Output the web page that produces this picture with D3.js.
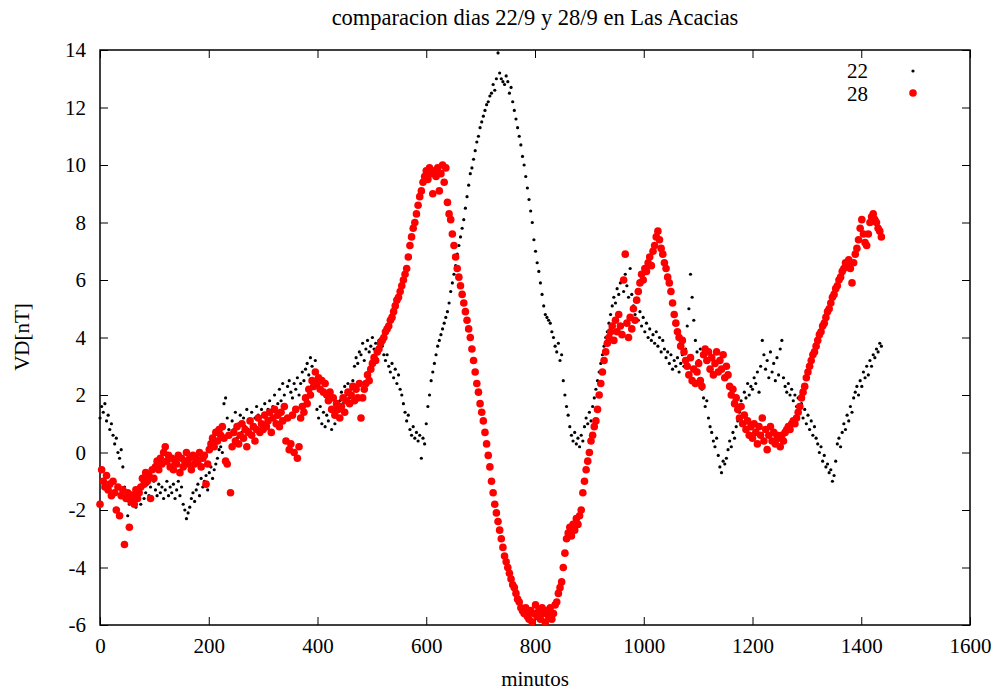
<!DOCTYPE html>
<html>
<head>
<meta charset="utf-8">
<script src="https://cdn.jsdelivr.net/npm/d3@7"></script>
<style>
body{margin:0;background:#fff;}
text{font-family:"Liberation Serif","Times New Roman",serif;fill:#000;}
</style>
</head>
<body>
<script>
var w = 1002;
var h = 693;
var padL = 100, padR = 970, padT = 50, padB = 625;

// one reading every 3 minutes, 20 per row = 1 hour
var minutos = d3.range(0, 1440, 3);

// dia 22/9
var vd22 = [
 1.2,1.6,1.4,1.7,1.1,1.3,0.8,1.0,0.6,0.3,0.5,0.0,-0.2,0.1,-0.5,-1.2,-1.6,-2.2,-1.8,-1.4,
 -1.7,-1.4,-1.9,-1.5,-1.3,-1.8,-1.2,-1.6,-1.4,-1.1,-1.5,-1.2,-1.6,-1.0,-1.3,-1.5,-1.1,-1.4,-1.2,-1.6,
 -1.3,-1.0,-1.5,-1.2,-1.4,-1.1,-1.6,-1.3,-1.0,-1.5,-1.2,-1.8,-2.0,-2.3,-2.1,-1.9,-1.6,-1.4,-1.7,-1.3,
 -1.1,-1.5,-0.9,-1.2,-1.0,-0.8,-1.3,-0.7,-0.5,-0.9,-0.6,-0.4,-0.2,0.1,0.2,0.0,1.7,1.9,1.2,0.8,
 0.6,1.1,0.8,1.4,0.5,1.0,1.3,0.7,1.2,0.9,1.5,0.8,1.1,1.4,0.9,1.2,1.6,1.3,1.1,1.5,
 1.3,1.7,1.2,1.5,1.8,1.4,1.6,2.0,1.5,1.7,2.2,1.8,2.4,2.0,1.6,2.3,2.5,2.1,1.9,2.4,
 2.2,2.6,2.0,2.4,2.8,2.5,2.9,3.1,2.7,3.3,3.0,2.8,3.2,1.5,1.2,1.6,1.0,1.4,0.9,1.3,
 1.1,1.5,0.8,1.3,1.0,1.6,1.2,1.8,2.1,1.7,2.3,2.0,2.4,1.9,2.2,2.5,3.0,3.3,3.1,3.5,
 3.4,3.8,3.2,3.6,3.9,3.5,3.7,4.0,3.6,3.8,3.5,3.9,3.6,3.7,3.4,3.2,3.4,3.0,2.8,3.1,
 2.6,2.9,2.4,2.7,2.2,2.0,1.7,1.4,1.1,1.3,0.8,0.6,0.9,0.5,0.7,0.4,0.6,-0.2,0.5,0.3,
 1.0,1.6,2.0,2.5,2.8,3.1,3.4,3.7,3.9,4.1,4.3,4.5,4.7,4.9,5.2,5.6,5.9,6.2,6.5,6.9,
 7.2,7.5,7.8,8.1,8.5,8.9,9.3,9.7,9.9,10.2,10.5,10.8,11.0,11.3,11.5,11.7,11.9,12.1,12.2,12.4,
 12.5,12.8,12.6,13.0,13.9,13.2,13.0,12.9,12.8,13.1,12.9,12.5,12.7,12.2,11.9,11.6,11.3,11.0,10.7,10.3,
 10.0,9.6,9.2,8.8,8.4,8.0,7.4,7.0,6.6,6.3,5.9,5.5,5.1,4.8,4.7,4.6,4.5,4.2,4.0,3.7,
 3.5,3.8,3.2,3.4,2.5,2.0,1.6,1.3,0.9,0.6,0.4,0.7,0.3,0.5,0.2,0.6,0.4,0.9,1.2,1.0,
 1.4,1.1,1.6,1.9,2.2,2.5,2.8,3.1,3.4,3.7,4.0,4.2,4.5,4.8,5.1,5.4,5.2,5.7,5.5,5.9,
 6.0,5.6,6.2,5.8,5.4,6.4,5.5,5.1,4.8,5.3,4.6,4.9,4.4,4.7,4.2,4.5,4.0,4.3,3.9,4.1,
 3.8,4.2,3.7,4.0,3.5,3.9,3.6,3.3,3.5,3.1,3.4,2.9,3.2,3.0,3.3,2.8,3.1,3.4,3.0,3.6,
 4.4,5.0,6.2,5.4,4.6,3.9,3.5,3.2,3.6,2.2,1.9,1.6,1.8,1.2,0.9,0.7,0.4,0.2,0.5,-0.1,
 -0.5,-0.7,-0.3,-0.4,-0.2,0.1,0.4,0.2,0.7,0.5,0.9,1.1,1.4,1.8,1.6,2.1,1.9,2.4,2.0,2.3,
 2.2,2.6,2.4,2.8,2.1,3.0,3.9,3.4,2.9,3.2,2.6,3.5,2.8,3.1,2.5,3.3,2.7,3.6,3.9,2.6,
 2.3,2.1,2.4,2.0,2.2,1.8,2.0,1.6,1.9,1.4,1.7,1.2,1.5,1.0,1.3,0.8,1.1,0.6,0.9,0.5,
 0.3,0.0,0.2,-0.3,-0.1,-0.5,-0.4,-0.7,-0.6,-1.0,-0.8,-0.3,0.3,0.5,0.2,0.7,1.0,0.8,1.3,1.1,
 1.6,1.4,1.9,2.1,2.3,2.0,2.5,2.3,2.8,2.6,3.0,2.7,3.2,3.0,3.4,3.3,3.6,3.5,3.8,3.7
];

// dia 28/9
var vd28 = [
 -1.8,-0.6,-1.0,-1.2,-0.8,-1.3,-1.1,-1.5,-1.0,-1.4,-2.0,-1.2,-2.2,-1.5,-1.3,-3.2,-1.6,-1.4,-2.6,-1.7,
 -1.5,-1.8,-1.3,-1.6,-1.4,-1.2,-0.9,-1.1,-0.7,-1.0,-0.8,-1.6,-0.6,-0.9,-0.5,-0.3,-0.6,-0.2,-0.4,0.0,
 0.2,-0.3,-0.1,-0.5,-0.2,-0.6,-0.3,-0.4,-0.1,-0.7,-0.2,-0.5,-0.3,0.0,-0.4,-0.2,-0.6,-0.1,-0.4,-0.2,
 -0.3,0.0,-0.5,-0.2,-0.1,-1.1,-0.4,0.1,0.3,0.5,0.2,0.7,0.4,0.8,0.6,0.9,0.5,-0.3,-0.4,0.6,
 -1.4,0.2,0.7,0.4,0.9,0.3,0.6,1.0,0.5,0.8,0.2,0.7,1.1,0.6,0.9,0.4,0.8,1.2,0.7,1.0,
 0.8,1.3,0.9,1.1,1.4,0.7,1.2,1.5,1.0,1.3,0.9,1.4,1.1,1.6,0.4,1.2,0.1,0.3,1.3,0.0,
 1.5,-0.2,0.2,1.2,1.6,1.4,1.9,1.7,2.2,2.0,2.5,2.3,2.8,2.4,2.6,2.2,2.5,2.1,2.4,2.0,
 1.8,2.1,1.5,1.9,1.3,1.7,1.5,1.2,1.6,1.9,1.4,1.8,2.1,1.7,2.0,2.3,1.8,2.2,1.9,2.4,
 1.2,1.9,2.2,2.4,2.7,2.5,2.9,3.1,3.3,3.2,3.5,3.6,3.8,3.9,4.0,4.2,4.3,4.4,4.6,4.7,
 4.9,5.1,5.3,5.4,5.6,5.8,6.0,6.2,6.4,6.8,7.2,7.5,7.8,8.0,8.3,8.6,8.9,9.1,9.4,9.6,
 9.8,9.5,9.9,9.7,9.0,9.8,9.6,9.9,9.1,9.7,10.0,9.4,9.9,8.7,8.3,8.1,7.6,7.2,6.8,6.4,
 6.1,5.8,5.5,5.2,4.9,4.6,4.3,4.0,3.6,3.2,2.8,2.4,2.1,1.7,1.4,1.1,0.7,0.3,-0.1,-0.5,
 -1.0,-1.4,-1.8,-2.1,-2.4,-2.7,-3.0,-3.3,-3.6,-3.8,-4.0,-4.2,-4.4,-4.6,-4.7,-4.9,-5.1,-5.2,-5.4,-5.5,
 -5.6,-5.4,-5.7,-5.8,-5.5,-5.9,-5.6,-5.3,-5.7,-5.5,-5.8,-5.4,-5.6,-5.9,-5.5,-5.7,-5.4,-5.8,-5.6,-5.3,
 -5.2,-4.9,-4.7,-4.5,-4.0,-3.5,-3.0,-2.8,-2.6,-2.9,-2.5,-2.7,-2.3,-2.5,-2.2,-2.0,-1.4,-1.0,-0.6,-0.3,
 0.0,0.4,0.6,0.9,1.1,1.5,2.0,2.4,2.8,3.2,3.5,3.8,4.0,4.2,4.4,3.9,4.6,4.2,4.8,4.4,
 4.1,6.0,6.9,4.5,4.0,4.7,4.3,5.0,4.6,5.3,5.6,5.9,6.2,6.0,6.4,6.3,6.6,6.8,6.5,7.0,
 7.2,7.5,7.7,7.4,7.1,6.9,6.6,6.4,6.1,5.9,5.6,5.2,4.8,4.5,4.2,4.0,3.7,3.9,3.5,3.2,
 3.0,2.7,3.3,2.5,2.9,2.4,2.8,3.1,2.5,2.3,3.4,3.6,3.2,3.5,2.9,3.3,2.7,3.1,3.5,2.8,
 3.2,2.9,3.4,2.6,3.0,2.7,2.3,2.0,2.2,1.7,1.9,1.5,1.2,1.6,1.0,1.3,0.8,1.1,0.6,0.9,
 0.5,1.0,0.7,0.3,0.9,0.6,1.2,0.4,0.8,0.1,0.6,0.9,0.4,0.7,0.3,0.6,0.5,0.2,0.6,0.4,
 0.7,0.8,0.9,0.8,1.0,1.1,1.0,1.2,1.4,1.6,1.9,2.1,2.3,2.6,2.8,3.0,3.2,3.4,3.5,3.7,
 3.9,4.1,4.2,4.4,4.5,4.7,4.9,5.0,5.2,5.4,5.5,5.7,5.8,6.0,6.1,6.3,6.4,6.6,6.5,6.7,
 6.4,5.9,6.6,6.9,7.1,7.4,7.8,8.1,7.6,7.3,7.2,7.6,8.0,8.2,8.3,8.1,8.0,7.8,7.7,7.5
];

var xTicks = [0,200,400,600,800,1000,1200,1400,1600];
var yTicks = [-6,-4,-2,0,2,4,6,8,10,12,14];
var series = ["22","28"];

var svg = d3.select("body")
            .append("svg")
	    .attr("width",w)
	    .attr("height",h);

var x = d3.scaleLinear().domain([0,1600]).range([padL,padR]);
var y = d3.scaleLinear().domain([-6,14]).range([padB,padT]);

// plain hyphen for negatives, like gnuplot
function fmt(d){ return String(d); }

/** axes, gnuplot style: ticks inside on all four sides **/
svg.append("g").attr("transform","translate(0,"+padB+")")
    .call(d3.axisBottom(x).tickValues(xTicks).tickSize(-8).tickPadding(13).tickFormat(fmt));
svg.append("g").attr("transform","translate(0,"+padT+")")
    .call(d3.axisTop(x).tickValues(xTicks).tickSize(-8).tickFormat(""));
svg.append("g").attr("transform","translate("+padL+",0)")
    .call(d3.axisLeft(y).tickValues(yTicks).tickSize(-8).tickPadding(14).tickFormat(fmt));
svg.append("g").attr("transform","translate("+padR+",0)")
    .call(d3.axisRight(y).tickValues(yTicks).tickSize(-8).tickFormat(""));

svg.selectAll(".domain").remove();
svg.selectAll(".tick line").attr("stroke","#000").attr("stroke-width",1);
svg.selectAll(".tick text").attr("font-size","21px").attr("font-family","Liberation Serif");

svg.append("rect")
    .attr("x",padL).attr("y",padT)
    .attr("width",padR-padL).attr("height",padB-padT)
    .attr("fill","none").attr("stroke","#000").attr("stroke-width",1.5);

/**** points ****/
var plot = svg.append("g");
plot.selectAll("circle.d22")
    .data(vd22)
    .enter()
    .append("circle")
    .attr("class","d22")
    .attr("cx",function(d,i){return x(minutos[i]);})
    .attr("cy",function(d){return y(d);})
    .attr("r",1.6)
    .attr("fill","#000");

plot.selectAll("circle.d28")
    .data(vd28)
    .enter()
    .append("circle")
    .attr("class","d28")
    .attr("cx",function(d,i){return x(minutos[i]);})
    .attr("cy",function(d){return y(d);})
    .attr("r",3.8)
    .attr("fill","#ff0000");

/** legend **/
svg.selectAll("text.leg")
    .data(series)
    .enter()
    .append("text")
    .attr("class","leg")
    .attr("x",868)
    .attr("y",function(d,i){return 78+i*23;})
    .attr("text-anchor","end")
    .attr("font-size","21px")
    .text(function(d){return d;});
svg.append("circle").attr("cx",913).attr("cy",71).attr("r",1.6).attr("fill","#000");
svg.append("circle").attr("cx",913).attr("cy",93).attr("r",3.8).attr("fill","#ff0000");

/** labels **/
svg.append("text")
    .attr("x",(padL+padR)/2).attr("y",25)
    .attr("text-anchor","middle")
    .attr("font-size","22.5px")
    .text("comparacion dias 22/9 y 28/9 en Las Acacias");
svg.append("text")
    .attr("x",(padL+padR)/2).attr("y",686)
    .attr("text-anchor","middle")
    .attr("font-size","21px")
    .text("minutos");
svg.append("text")
    .attr("transform","translate(29,337) rotate(-90)")
    .attr("text-anchor","middle")
    .attr("font-size","21px")
    .text("VD[nT]");
</script>
</body>
</html>
